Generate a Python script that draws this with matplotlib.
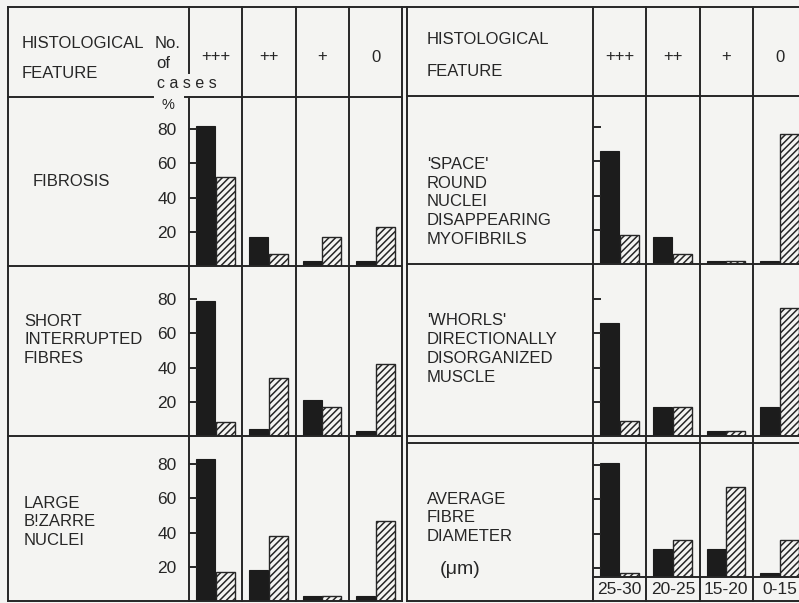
import matplotlib
matplotlib.use("Agg")
import matplotlib.pyplot as plt
from matplotlib.lines import Line2D

plt.rcParams['font.family'] = ['Liberation Sans', 'DejaVu Sans']
plt.rcParams['hatch.linewidth'] = 1.1

# data (percent of cases), solid = first group, hatched = second group
grades = ['+++', '++', '+', '0']
diam_labels = ['25-30', '20-25', '15-20', '0-15']

fibrosis_solid = [82, 17, 3, 3]
fibrosis_hatch = [52, 7, 17, 23]
short_solid = [79, 4, 21, 3]
short_hatch = [8, 34, 17, 42]
bizarre_solid = [83, 18, 3, 3]
bizarre_hatch = [17, 38, 3, 47]

space_solid = [66, 16, 2, 2]
space_hatch = [17, 6, 2, 76]
whorls_solid = [66, 17, 3, 17]
whorls_hatch = [9, 17, 3, 75]
diam_solid = [81, 31, 31, 17]
diam_hatch = [17, 36, 67, 36]

left_labels = ['FIBROSIS', 'SHORT\nINTERRUPTED\nFIBRES', 'LARGE\nB!ZARRE\nNUCLEI']
right_labels = ["'SPACE'\nROUND\nNUCLEI\nDISAPPEARING\nMYOFIBRILS",
                "'WHORLS'\nDIRECTIONALLY\nDISORGANIZED\nMUSCLE",
                "AVERAGE\nFIBRE\nDIAMETER"]

W, H = 799, 603
BG = '#f4f4f2'
LC = '#262626'
DARK = '#1c1c1c'
LW = 1.4
PX = 1.71  # pixels per percent
FS = 12

fig = plt.figure(figsize=(W / 100, H / 100), dpi=100, facecolor=BG)


def hline(y, x0, x1):
    fig.add_artist(Line2D([x0 / W, x1 / W], [1 - y / H, 1 - y / H],
                          transform=fig.transFigure, color=LC, lw=LW))


def vline(x, y0, y1):
    fig.add_artist(Line2D([x / W, x / W], [1 - y0 / H, 1 - y1 / H],
                          transform=fig.transFigure, color=LC, lw=LW))


def txt(x, y, s, size=FS, **kw):
    fig.text(x / W, 1 - y / H, s, fontsize=size, color=LC, va='center',
             linespacing=1.33, **kw)


def bar_panel(x0, ytop, ybot, solid, hatched, labels=True, ymin=0):
    cw = 53.3
    ax = fig.add_axes([x0 / W, 1 - ybot / H, 4 * cw / W, (ybot - ytop) / H])
    ax.set_facecolor('none')
    pos = range(len(solid))
    ax.bar([p + 0.13 for p in pos], solid, width=0.36, align='edge',
           color=DARK, edgecolor=DARK, lw=0.8)
    ax.bar([p + 0.5 for p in pos], hatched, width=0.36, align='edge',
           color=BG, edgecolor=LC, hatch='/////', lw=1.0)
    ax.set_xlim(0, 4)
    ax.set_ylim(ymin, ymin + (ybot - ytop) / PX)
    ax.set_yticks([20, 40, 60, 80])
    ax.set_xticks([])
    for s in ax.spines.values():
        s.set_visible(False)
    ax.tick_params(axis='y', direction='in', length=6, width=LW, color=LC,
                   labelsize=12.5, labelcolor=LC, pad=9, labelleft=labels)
    return ax


# ---------- left table ----------
lx0, lax, lx1 = 8, 189, 402
lcols = [lax + 53.3 * i for i in range(1, 4)]
hline(7, lx0, W)
hline(97, lx0, 153)
hline(97, 185, lx1)
hline(266, lx0, lx1)
hline(436, lx0, lx1)
hline(601, lx0, lx1)
vline(lx0, 7, 601)
vline(lax, 7, 73)
vline(lax, 97, 601)
for c in lcols:
    vline(c, 7, 601)
vline(lx1, 7, 601)

txt(22, 43, 'HISTOLOGICAL')
txt(22, 73, 'FEATURE')
txt(155, 43, 'No.')
txt(156, 63, 'of')
txt(157, 83, 'c a s e s', size=FS - 0.5)
txt(162, 105, '%', size=10.5)
for i, g in enumerate(grades):
    txt(lax + 53.3 * (i + 0.5), 57, g, ha='center', size=12)

rows_l = [(97, 266), (266, 436), (436, 601)]
data_l = [(fibrosis_solid, fibrosis_hatch), (short_solid, short_hatch),
          (bizarre_solid, bizarre_hatch)]
for (yt, yb), (s, h) in zip(rows_l, data_l):
    bar_panel(lax, yt, yb, s, h)
txt(33, 181, left_labels[0])
txt(24, 340, left_labels[1])
txt(24, 522, left_labels[2])

# ---------- right table ----------
rx0b, rax = 407, 593
rcols = [rax + 53.3 * i for i in range(1, 4)]
vline(rx0b, 7, 601)
hline(96, rx0b, W)
hline(264, rx0b, W)
hline(436, rx0b, W)
hline(443, rx0b, W)
hline(577, rax, W)
hline(601, rx0b, W)
vline(rax, 7, 601)
for c in rcols:
    vline(c, 7, 601)

txt(427, 40, 'HISTOLOGICAL')
txt(427, 72, 'FEATURE')
for i, g in enumerate(grades):
    txt(rax + 53.3 * (i + 0.5), 57, g, ha='center', size=12)

bar_panel(rax, 96, 264, space_solid, space_hatch, labels=False)
bar_panel(rax, 264, 436, whorls_solid, whorls_hatch, labels=False)
bar_panel(rax, 443, 577, diam_solid, diam_hatch, labels=False, ymin=14.6)

txt(427, 202, right_labels[0])
txt(427, 349, right_labels[1])
txt(427, 518, right_labels[2])
txt(440, 570, '(\u03bcm)', size=14)
for i, d in enumerate(diam_labels):
    txt(rax + 53.3 * (i + 0.5), 590, d, ha='center', size=12.5)

fig.savefig('out.png', dpi=100, facecolor=BG)
